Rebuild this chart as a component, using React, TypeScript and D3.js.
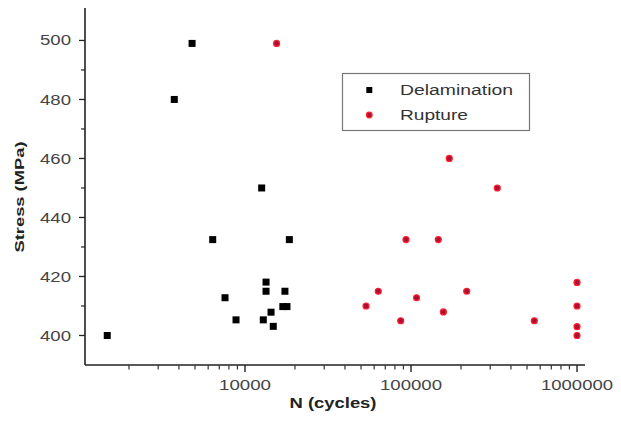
import React from "react";
import * as d3 from "d3";

const delamN = [1480, 4800, 3750, 12600, 6390, 18500, 7580, 8830, 13390, 13390, 12890, 14350, 14800, 17400, 16900, 17900];
const delamS = [400, 499, 480, 450, 432.5, 432.5, 412.8, 405.3, 418.1, 415, 405.3, 407.9, 403.1, 415, 409.8, 409.8];
const ruptN = [15500, 170000, 331000, 93300, 146000, 63500, 53600, 108000, 86700, 156700, 216600, 553000, 1000000, 1000000, 1000000, 1000000];
const ruptS = [499, 460, 450, 432.5, 432.5, 415, 410, 412.8, 405, 408, 415, 405, 418, 410, 403, 400];
const yTicks = [400, 420, 440, 460, 480, 500];
const yMinor = [410, 430, 450, 470, 490];
const xTicks = [10000, 100000, 1000000];
const xTickLabels = ["10000", "100000", "1000000"];
const xLabelWidths = [52, 62, 72];
const legendLabels = ["Delamination", "Rupture"];

const FONT = "'Liberation Sans', Arial, sans-serif";

export default function App() {
  const x = d3.scaleLog().domain([1087, 1117000]).range([85, 585]);
  const y = d3.scaleLinear().domain([390, 511]).range([365, 8]);
  const xMinor: number[] = [];
  [1000, 10000, 100000].forEach((d) => {
    for (let k = 2; k <= 9; k++) xMinor.push(d * k);
  });
  const x0 = 85;
  const yb = 365;
  return (
    <svg width={621} height={428} style={{ position: "fixed", left: 0, top: 0, background: "#fff" }}>
      <rect width={621} height={428} fill="#fff" />
      <line x1={x0} x2={x0} y1={8} y2={yb} stroke="#222" strokeWidth={1.6} />
      <line x1={x0} x2={585} y1={yb} y2={yb} stroke="#222" strokeWidth={1.6} />
      {yTicks.map((t) => (
        <g key={"yt" + t}>
          <line x1={x0 - 6} x2={x0} y1={y(t)} y2={y(t)} stroke="#222" strokeWidth={1.3} />
          <text x={71} y={y(t)} dy="0.36em" textAnchor="end" fontSize={14} fontFamily={FONT} fill="#444"
            textLength={31} lengthAdjust="spacingAndGlyphs">{t}</text>
        </g>
      ))}
      {yMinor.map((t) => (
        <line key={"ym" + t} x1={x0 - 4} x2={x0} y1={y(t)} y2={y(t)} stroke="#222" strokeWidth={1.2} />
      ))}
      {xTicks.map((t, i) => (
        <g key={"xt" + t}>
          <line x1={x(t)} x2={x(t)} y1={yb} y2={yb + 7} stroke="#222" strokeWidth={1.4} />
          <text x={x(t)} y={385} dy="0.36em" textAnchor="middle" fontSize={14} fontFamily={FONT} fill="#444"
            textLength={xLabelWidths[i]} lengthAdjust="spacingAndGlyphs">{xTickLabels[i]}</text>
        </g>
      ))}
      {xMinor.filter((t) => x(t) > x0 && x(t) < 585).map((t) => (
        <line key={"xm" + t} x1={x(t)} x2={x(t)} y1={yb} y2={yb + 4.5} stroke="#333" strokeWidth={1.2} />
      ))}
      <text x={333} y={403} dy="0.36em" textAnchor="middle" fontSize={14} fontWeight="bold" fontFamily={FONT} fill="#222"
        textLength={87} lengthAdjust="spacingAndGlyphs">N (cycles)</text>
      <text transform={`translate(19.5,197) rotate(-90)`} dy="0.36em" textAnchor="middle" fontSize={13} fontWeight="bold"
        fontFamily={FONT} fill="#222" textLength={111} lengthAdjust="spacingAndGlyphs">Stress (MPa)</text>
      {delamN.map((n, i) => (
        <rect key={"d" + i} x={x(n) - 3.5} y={y(delamS[i]) - 3.5} width={7} height={7} fill="#000" />
      ))}
      {ruptN.map((n, i) => (
        <circle key={"r" + i} cx={x(n)} cy={y(ruptS[i])} r={3} fill="#b01030" stroke="#ff2030" strokeWidth={1.2} />
      ))}
      <rect x={342.5} y={73.5} width={187} height={57} fill="#fff" stroke="#777" strokeWidth={1.2} />
      <rect x={369.3 - 3} y={90 - 3} width={6} height={6} fill="#000" />
      <circle cx={369.3} cy={115} r={2.8} fill="#b01030" stroke="#ff2030" strokeWidth={1.2} />
      <text x={400} y={90} dy="0.36em" fontSize={14} fontFamily={FONT} fill="#333" textLength={113}
        lengthAdjust="spacingAndGlyphs">{legendLabels[0]}</text>
      <text x={400} y={115} dy="0.36em" fontSize={14} fontFamily={FONT} fill="#333" textLength={68}
        lengthAdjust="spacingAndGlyphs">{legendLabels[1]}</text>
    </svg>
  );
}
